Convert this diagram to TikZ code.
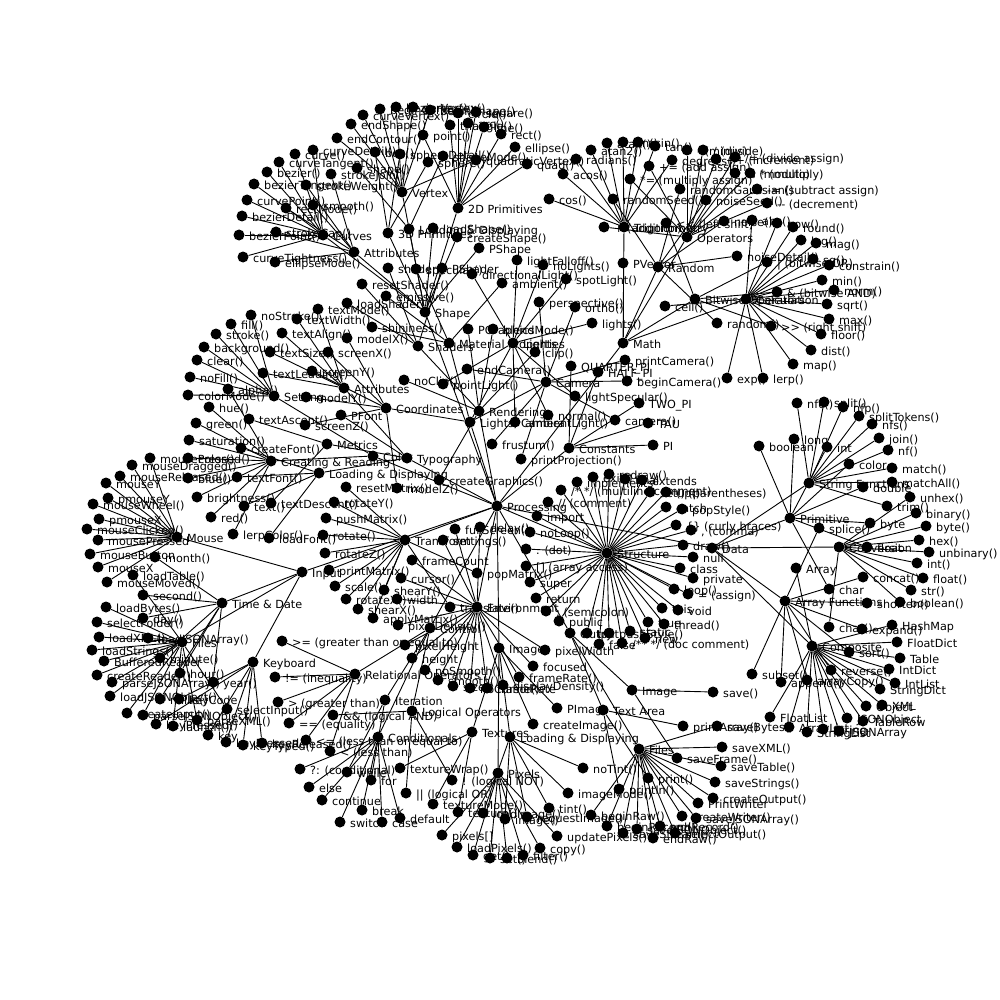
\documentclass[tikz,border=0pt]{standalone}
\usepackage{fontspec}
\newfontfamily\lblfont{DejaVu Sans}
\tikzset{
  dot/.style={circle, fill=black, draw=none, inner sep=0pt, minimum size=11pt},
  lbl/.style={anchor=base west, inner sep=0pt, xshift=10pt, yshift=-5.5pt, font=\lblfont\fontsize{11.2}{13}\selectfont},
  edge/.style={line width=0.9pt, draw=black}
}
\newcommand\myleaf[5]{%
  \node[dot] (#1) at (#2,#3) {};
  \node[lbl] (#1t) at (#1.center) {#4};
  \draw[edge] (#5) -- (#1);
}
\begin{document}
\begin{tikzpicture}[x=1pt,y=-1pt]
\fill[white] (0,0) rectangle (1000,1000);
\useasboundingbox (0,0) rectangle (1000,1000);
% root
\node[dot] (proc) at (497,506) {};
\node[lbl] (proct) at (proc.center) {Processing};
% top level
\myleaf{struct}{607}{553}{Structure}{proc}
\myleaf{env}{477}{607}{Environment}{proc}
\myleaf{data}{712}{548}{Data}{proc}
\myleaf{ctrl}{430}{628}{Control}{proc}
\myleaf{shape}{425}{312}{Shape}{proc}
\myleaf{input}{302}{572}{Input}{proc}
\myleaf{output}{570}{633}{Output}{proc}
\myleaf{transf}{405}{540}{Transform}{proc}
\myleaf{lc}{470}{422}{Lights, Camera}{proc}
\myleaf{color}{373}{456}{Color}{proc}
\myleaf{image}{499}{648}{Image}{proc}
\myleaf{rend}{479}{411}{Rendering}{proc}
\myleaf{typo}{407}{458}{Typography}{proc}
\myleaf{math}{623}{343}{Math}{proc}
\myleaf{const}{569}{448}{Constants}{proc}
% sub hubs
\myleaf{prima}{458}{208}{2D Primitives}{shape}
\myleaf{curves}{323}{235}{Curves}{shape}
\myleaf{primb}{388}{233}{3D Primitives}{shape}
\myleaf{shattr}{354}{252}{Attributes}{shape}
\myleaf{vertex}{402}{192}{Vertex}{shape}
\myleaf{shld}{409}{229}{Loading \& Displaying}{shape}
\myleaf{lights}{513}{343}{Lights}{lc}
\myleaf{camera}{546}{382}{Camera}{lc}
\myleaf{coords}{386}{408}{Coordinates}{lc}
\myleaf{matprop}{449}{343}{Material Properties}{lc}
\myleaf{setting}{274}{396}{Setting}{color}
\myleaf{cr}{271}{461}{Creating \& Reading}{color}
\myleaf{shaders}{418}{346}{Shaders}{rend}
\myleaf{tyattr}{344}{388}{Attributes}{typo}
\myleaf{metrics}{327}{444}{Metrics}{typo}
\myleaf{tyld}{319}{473}{Loading \& Displaying}{typo}
\myleaf{trig}{624}{227}{Trigonometry}{math}
\myleaf{ops}{687}{237}{Operators}{math}
\myleaf{bitw}{695}{299}{Bitwise Operators}{math}
\myleaf{calc}{746}{299}{Calculation}{math}
\myleaf{rnd}{658}{267}{Random}{math}
\myleaf{mouse}{177}{537}{Mouse}{input}
\myleaf{keyb}{253}{662}{Keyboard}{input}
\myleaf{infiles}{182}{642}{Files}{input}
\myleaf{timedate}{222}{603}{Time \& Date}{input}
\myleaf{relop}{355}{674}{Relational Operators}{ctrl}
\myleaf{iter}{385}{700}{Iteration}{ctrl}
\myleaf{cond}{378}{737}{Conditionals}{ctrl}
\myleaf{logop}{412}{711}{Logical Operators}{ctrl}
\myleaf{imld}{510}{737}{Loading \& Displaying}{image}
\myleaf{textures}{472}{732}{Textures}{image}
\myleaf{pixels}{498}{773}{Pixels}{image}
\myleaf{textarea}{603}{710}{Text Area}{output}
\myleaf{outimg}{632}{690}{Image}{output}
\myleaf{outfiles}{639}{749}{Files}{output}
\myleaf{primitive}{790}{518}{Primitive}{data}
\myleaf{composite}{812}{646}{Composite}{data}
\myleaf{conversion}{839}{547}{Conversion}{data}
\myleaf{strfun}{809}{483}{String Functions}{data}
\myleaf{arrfun}{785}{601}{Array Functions}{data}
% Structure
\myleaf{st1}{577}{482}{implements}{struct}
\myleaf{st2}{593}{477}{exit()}{struct}
\myleaf{st3}{609}{474}{redraw()}{struct}
\myleaf{st4}{625}{479}{final}{struct}
\myleaf{st5}{642}{480}{extends}{struct}
\myleaf{st6}{650}{492}{setup()}{struct}
\myleaf{st7}{666}{492}{() (parentheses)}{struct}
\myleaf{st8}{561}{490}{/* */ (multiline comment)}{struct}
\myleaf{st9}{548}{502}{// (comment)}{struct}
\myleaf{st10}{537}{516}{import}{struct}
\myleaf{st11}{530}{532}{noLoop()}{struct}
\myleaf{st12}{526}{549}{. (dot)}{struct}
\myleaf{st13}{526}{566}{[] (array access)}{struct}
\myleaf{st14}{530}{582}{super}{struct}
\myleaf{st15}{536}{598}{return}{struct}
\myleaf{st16}{546}{611}{; (semicolon)}{struct}
\myleaf{st17}{559}{621}{public}{struct}
\myleaf{st18}{587}{633}{try}{struct}
\myleaf{st19}{599}{644}{false}{struct}
\myleaf{st20}{609}{633}{pushStyle()}{struct}
\myleaf{st21}{622}{643}{/** */ (doc comment)}{struct}
\myleaf{st22}{630}{631}{static}{struct}
\myleaf{st23}{645}{638}{new}{struct}
\myleaf{st24}{648}{622}{true}{struct}
\myleaf{st25}{664}{624}{thread()}{struct}
\myleaf{st26}{662}{608}{this}{struct}
\myleaf{st27}{678}{610}{void}{struct}
\myleaf{st28}{674}{589}{loop()}{struct}
\myleaf{st29}{688}{594}{= (assign)}{struct}
\myleaf{st30}{693}{578}{private}{struct}
\myleaf{st31}{680}{568}{class}{struct}
\myleaf{st32}{693}{557}{null}{struct}
\myleaf{st33}{683}{545}{draw()}{struct}
\myleaf{st34}{691}{530}{, (comma)}{struct}
\myleaf{st35}{676}{525}{\{\} (curly braces)}{struct}
\myleaf{st36}{682}{509}{popStyle()}{struct}
\myleaf{st37}{666}{507}{catch}{struct}
% Environment
\myleaf{en1}{401}{578}{cursor()}{env}
\myleaf{en2}{480}{527}{delay()}{env}
\myleaf{en3}{455}{529}{fullScreen()}{env}
\myleaf{en4}{443}{540}{settings()}{env}
\myleaf{en5}{412}{560}{frameCount}{env}
\myleaf{en6}{397}{599}{width}{env}
\myleaf{en7}{398}{625}{pixelDensity()}{env}
\myleaf{en8}{405}{645}{pixelHeight}{env}
\myleaf{en9}{412}{658}{height}{env}
\myleaf{en10}{425}{670}{noSmooth()}{env}
\myleaf{en11}{438}{680}{smooth()}{env}
\myleaf{en12}{453}{686}{size()}{env}
\myleaf{en13}{470}{688}{noCursor()}{env}
\myleaf{en14}{487}{688}{frameRate}{env}
\myleaf{en15}{503}{685}{displayDensity()}{env}
\myleaf{en16}{519}{677}{frameRate()}{env}
\myleaf{en17}{533}{666}{focused}{env}
\myleaf{en18}{545}{650}{pixelWidth}{env}
% Transform
\myleaf{tr1}{373}{618}{applyMatrix()}{transf}
\myleaf{tr2}{477}{573}{popMatrix()}{transf}
\myleaf{tr3}{329}{570}{printMatrix()}{transf}
\myleaf{tr4}{326}{518}{pushMatrix()}{transf}
\myleaf{tr5}{346}{487}{resetMatrix()}{transf}
\myleaf{tr6}{323}{535}{rotate()}{transf}
\myleaf{tr7}{346}{599}{rotateX()}{transf}
\myleaf{tr8}{334}{502}{rotateY()}{transf}
\myleaf{tr9}{325}{553}{rotateZ()}{transf}
\myleaf{tr10}{335}{586}{scale()}{transf}
\myleaf{tr11}{358}{609}{shearX()}{transf}
\myleaf{tr12}{384}{590}{shearY()}{transf}
\myleaf{tr13}{450}{607}{translate()}{transf}
% Lights
\myleaf{li1}{515}{422}{ambientLight()}{lights}
\myleaf{li2}{472}{274}{directionalLight()}{lights}
\myleaf{li3}{517}{260}{lightFalloff()}{lights}
\myleaf{li4}{592}{323}{lights()}{lights}
\myleaf{li5}{575}{396}{lightSpecular()}{lights}
\myleaf{li6}{543}{265}{noLights()}{lights}
\myleaf{li7}{548}{415}{normal()}{lights}
\myleaf{li8}{443}{384}{pointLight()}{lights}
\myleaf{li9}{566}{279}{spotLight()}{lights}
% Camera
\myleaf{ca1}{627}{381}{beginCamera()}{camera}
\myleaf{ca2}{615}{420}{camera()}{camera}
\myleaf{ca3}{467}{369}{endCamera()}{camera}
\myleaf{ca4}{492}{444}{frustum()}{camera}
\myleaf{ca5}{575}{307}{ortho()}{camera}
\myleaf{ca6}{539}{302}{perspective()}{camera}
\myleaf{ca7}{625}{360}{printCamera()}{camera}
\myleaf{ca8}{521}{459}{printProjection()}{camera}
% Coordinates
\myleaf{co1}{347}{338}{modelX()}{coords}
\myleaf{co2}{306}{397}{modelY()}{coords}
\myleaf{co3}{397}{488}{modelZ()}{coords}
\myleaf{co4}{328}{352}{screenX()}{coords}
\myleaf{co5}{312}{371}{screenY()}{coords}
\myleaf{co6}{305}{425}{screenZ()}{coords}
% Material properties
\myleaf{mp1}{502}{283}{ambient()}{matprop}
\myleaf{mp2}{386}{296}{emissive()}{matprop}
\myleaf{mp3}{372}{327}{shininess()}{matprop}
\myleaf{mp4}{416}{269}{specular()}{matprop}
% Rendering
\myleaf{re1}{493}{329}{blendMode()}{rend}
\myleaf{re2}{535}{352}{clip()}{rend}
\myleaf{re3}{439}{480}{createGraphics()}{rend}
\myleaf{re4}{404}{380}{noClip()}{rend}
\myleaf{re5}{468}{329}{PGraphics}{rend}
\myleaf{sh1}{347}{303}{loadShader()}{shaders}
\myleaf{sh2}{442}{268}{PShader}{shaders}
\myleaf{sh3}{362}{284}{resetShader()}{shaders}
\myleaf{sh4}{388}{268}{shader()}{shaders}
% Shape
\myleaf{sp1}{457}{237}{createShape()}{shape}
\myleaf{sp2}{433}{228}{loadShape()}{shape}
\myleaf{sp3}{479}{248}{PShape}{shape}
\myleaf{vx1}{380}{109}{beginContour()}{vertex}
\myleaf{vx2}{430}{110}{beginShape()}{vertex}
\myleaf{vx3}{396}{107}{bezierVertex()}{vertex}
\myleaf{vx4}{363}{115}{curveVertex()}{vertex}
\myleaf{vx5}{337}{138}{endContour()}{vertex}
\myleaf{vx6}{351}{124}{endShape()}{vertex}
\myleaf{vx7}{476}{160}{quadraticVertex()}{vertex}
\myleaf{vx8}{413}{107}{vertex()}{vertex}
\myleaf{pa1}{468}{123}{arc()}{prima}
\myleaf{pa2}{458}{113}{circle()}{prima}
\myleaf{pa3}{515}{147}{ellipse()}{prima}
\myleaf{pa4}{484}{127}{line()}{prima}
\myleaf{pa5}{423}{135}{point()}{prima}
\myleaf{pa6}{527}{164}{quad()}{prima}
\myleaf{pa7}{501}{134}{rect()}{prima}
\myleaf{pa8}{476}{112}{square()}{prima}
\myleaf{pa9}{450}{125}{triangle()}{prima}
\myleaf{pb1}{375}{152}{box()}{primb}
\myleaf{pb2}{428}{162}{sphere()}{primb}
\myleaf{pb3}{400}{154}{sphereDetail()}{primb}
\myleaf{cu1}{267}{172}{bezier()}{curves}
\myleaf{cu2}{242}{216}{bezierDetail()}{curves}
\myleaf{cu3}{239}{235}{bezierPoint()}{curves}
\myleaf{cu4}{254}{184}{bezierTangent()}{curves}
\myleaf{cu5}{295}{154}{curve()}{curves}
\myleaf{cu6}{313}{150}{curveDetail()}{curves}
\myleaf{cu7}{247}{200}{curvePoint()}{curves}
\myleaf{cu8}{279}{162}{curveTangent()}{curves}
\myleaf{cu9}{243}{257}{curveTightness()}{curves}
\myleaf{sa1}{275}{262}{ellipseMode()}{shattr}
\myleaf{sa2}{286}{208}{rectMode()}{shattr}
\myleaf{sa3}{313}{205}{smooth()}{shattr}
\myleaf{sa4}{276}{232}{strokeCap()}{shattr}
\myleaf{sa5}{331}{174}{strokeJoin()}{shattr}
\myleaf{sa6}{306}{185}{strokeWeight()}{shattr}
\myleaf{sl1}{357}{168}{shape()}{shld}
\myleaf{sl2}{443}{156}{shapeMode()}{shld}
% Math
\myleaf{mt1}{623}{263}{PVector}{math}
\myleaf{tg1}{563}{174}{acos()}{trig}
\myleaf{tg2}{638}{142}{asin()}{trig}
\myleaf{tg3}{607}{143}{atan()}{trig}
\myleaf{tg4}{591}{150}{atan2()}{trig}
\myleaf{tg5}{549}{199}{cos()}{trig}
\myleaf{tg6}{672}{160}{degrees()}{trig}
\myleaf{tg7}{576}{159}{radians()}{trig}
\myleaf{tg8}{623}{142}{sin()}{trig}
\myleaf{tg9}{655}{146}{tan()}{trig}
\myleaf{op1}{735}{173}{\% (modulo)}{ops}
\myleaf{op2}{750}{173}{* (multiply)}{ops}
\myleaf{op3}{630}{179}{*= (multiply assign)}{ops}
\myleaf{op4}{604}{227}{+ (addition)}{ops}
\myleaf{op5}{716}{159}{++ (increment)}{ops}
\myleaf{op6}{649}{166}{+= (add assign)}{ops}
\myleaf{op7}{687}{150}{- (minus)}{ops}
\myleaf{op8}{767}{203}{-{}- (decrement)}{ops}
\myleaf{op9}{757}{189}{-= (subtract assign)}{ops}
\myleaf{op10}{703}{150}{/ (divide)}{ops}
\myleaf{op11}{735}{157}{/= (divide assign)}{ops}
\myleaf{rn1}{724}{221}{noise()}{rnd}
\myleaf{rn2}{737}{256}{noiseDetail()}{rnd}
\myleaf{rn3}{706}{200}{noiseSeed()}{rnd}
\myleaf{rn4}{717}{323}{random()}{rnd}
\myleaf{rn5}{680}{189}{randomGaussian()}{rnd}
\myleaf{rn6}{613}{199}{randomSeed()}{rnd}
\myleaf{bw1}{777}{292}{\& (bitwise AND)}{bitw}
\myleaf{bw2}{666}{223}{<< (left shift)}{bitw}
\myleaf{bw3}{771}{326}{>> (right shift)}{bitw}
\myleaf{bw4}{767}{262}{| (bitwise OR)}{bitw}
\myleaf{cl1}{752}{220}{abs()}{calc}
\myleaf{cl2}{665}{306}{ceil()}{calc}
\myleaf{cl3}{829}{265}{constrain()}{calc}
\myleaf{cl4}{811}{350}{dist()}{calc}
\myleaf{cl5}{727}{378}{exp()}{calc}
\myleaf{cl6}{821}{334}{floor()}{calc}
\myleaf{cl7}{763}{378}{lerp()}{calc}
\myleaf{cl8}{801}{240}{log()}{calc}
\myleaf{cl9}{816}{243}{mag()}{calc}
\myleaf{cl10}{793}{364}{map()}{calc}
\myleaf{cl11}{829}{319}{max()}{calc}
\myleaf{cl12}{822}{280}{min()}{calc}
\myleaf{cl13}{834}{290}{norm()}{calc}
\myleaf{cl14}{777}{223}{pow()}{calc}
\myleaf{cl15}{793}{227}{round()}{calc}
\myleaf{cl16}{813}{259}{sq()}{calc}
\myleaf{cl17}{827}{304}{sqrt()}{calc}
% Constants
\myleaf{cn1}{598}{372}{HALF\_PI}{const}
\myleaf{cn2}{653}{445}{PI}{const}
\myleaf{cn3}{571}{366}{QUARTER\_PI}{const}
\myleaf{cn4}{648}{423}{TAU}{const}
\myleaf{cn5}{639}{403}{TWO\_PI}{const}
% Typography
\myleaf{ty1}{341}{415}{PFont}{typo}
\myleaf{ta1}{282}{333}{textAlign()}{tyattr}
\myleaf{ta2}{263}{373}{textLeading()}{tyattr}
\myleaf{ta3}{318}{309}{textMode()}{tyattr}
\myleaf{ta4}{270}{352}{textSize()}{tyattr}
\myleaf{ta5}{297}{319}{textWidth()}{tyattr}
\myleaf{me1}{249}{419}{textAscent()}{metrics}
\myleaf{me2}{271}{503}{textDescent()}{metrics}
\myleaf{tl1}{241}{448}{createFont()}{tyld}
\myleaf{tl2}{269}{538}{loadFont()}{tyld}
\myleaf{tl3}{244}{506}{text()}{tyld}
\myleaf{tl4}{237}{477}{textFont()}{tyld}
% Color
\myleaf{se1}{204}{347}{background()}{setting}
\myleaf{se2}{197}{360}{clear()}{setting}
\myleaf{se3}{188}{395}{colorMode()}{setting}
\myleaf{se4}{231}{324}{fill()}{setting}
\myleaf{se5}{190}{377}{noFill()}{setting}
\myleaf{se6}{251}{315}{noStroke()}{setting}
\myleaf{se7}{216}{334}{stroke()}{setting}
\myleaf{cr1}{228}{389}{alpha()}{cr}
\myleaf{cr2}{188}{478}{blue()}{cr}
\myleaf{cr3}{197}{497}{brightness()}{cr}
\myleaf{cr4}{188}{458}{color()}{cr}
\myleaf{cr5}{196}{423}{green()}{cr}
\myleaf{cr6}{209}{407}{hue()}{cr}
\myleaf{cr7}{233}{534}{lerpColor()}{cr}
\myleaf{cr8}{211}{517}{red()}{cr}
\myleaf{cr9}{189}{440}{saturation()}{cr}
% Mouse
\myleaf{mo1}{90}{554}{mouseButton}{mouse}
\myleaf{mo2}{87}{529}{mouseClicked()}{mouse}
\myleaf{mo3}{132}{465}{mouseDragged()}{mouse}
\myleaf{mo4}{107}{582}{mouseMoved()}{mouse}
\myleaf{mo5}{150}{458}{mousePressed()}{mouse}
\myleaf{mo6}{98}{540}{mousePressed}{mouse}
\myleaf{mo7}{120}{476}{mouseReleased()}{mouse}
\myleaf{mo8}{93}{504}{mouseWheel()}{mouse}
\myleaf{mo9}{98}{567}{mouseX}{mouse}
\myleaf{mo10}{106}{483}{mouseY}{mouse}
\myleaf{mo11}{99}{519}{pmouseX}{mouse}
\myleaf{mo12}{108}{498}{pmouseY}{mouse}
% Time & Date
\myleaf{td1}{143}{618}{day()}{timedate}
\myleaf{td2}{180}{673}{hour()}{timedate}
\myleaf{td3}{160}{699}{millis()}{timedate}
\myleaf{td4}{160}{658}{minute()}{timedate}
\myleaf{td5}{155}{557}{month()}{timedate}
\myleaf{td6}{143}{595}{second()}{timedate}
\myleaf{td7}{213}{682}{year()}{timedate}
% Files (input)
\myleaf{fi1}{104}{661}{BufferedReader}{infiles}
\myleaf{fi2}{127}{713}{createInput()}{infiles}
\myleaf{fi3}{97}{675}{createReader()}{infiles}
\myleaf{fi4}{173}{726}{launch()}{infiles}
\myleaf{fi5}{106}{607}{loadBytes()}{infiles}
\myleaf{fi6}{148}{638}{loadJSONArray()}{infiles}
\myleaf{fi7}{110}{696}{loadJSONObject()}{infiles}
\myleaf{fi8}{92}{650}{loadStrings()}{infiles}
\myleaf{fi9}{133}{575}{loadTable()}{infiles}
\myleaf{fi10}{99}{637}{loadXML()}{infiles}
\myleaf{fi11}{112}{682}{parseJSONArray()}{infiles}
\myleaf{fi12}{143}{715}{parseJSONObject()}{infiles}
\myleaf{fi13}{197}{720}{parseXML()}{infiles}
\myleaf{fi14}{97}{622}{selectFolder()}{infiles}
\myleaf{fi15}{227}{709}{selectInput()}{infiles}
% Keyboard
\myleaf{kb1}{208}{735}{key}{keyb}
\myleaf{kb2}{179}{699}{keyCode}{keyb}
\myleaf{kb3}{156}{724}{keyPressed()}{keyb}
\myleaf{kb4}{226}{742}{keyPressed}{keyb}
\myleaf{kb5}{262}{743}{keyReleased()}{keyb}
\myleaf{kb6}{243}{745}{keyTyped()}{keyb}
% Control
\myleaf{ro1}{275}{677}{!= (inequality)}{relop}
\myleaf{ro2}{330}{751}{< (less than)}{relop}
\myleaf{ro3}{306}{740}{<= (less than or equal to)}{relop}
\myleaf{ro4}{289}{723}{== (equality)}{relop}
\myleaf{ro5}{278}{702}{> (greater than)}{relop}
\myleaf{ro6}{282}{641}{>= (greater than or equal to)}{relop}
\myleaf{it1}{371}{780}{for}{iter}
\myleaf{it2}{347}{772}{while}{iter}
\myleaf{cd1}{300}{769}{?: (conditional)}{cond}
\myleaf{cd2}{362}{810}{break}{cond}
\myleaf{cd3}{382}{822}{case}{cond}
\myleaf{cd4}{322}{800}{continue}{cond}
\myleaf{cd5}{400}{818}{default}{cond}
\myleaf{cd6}{309}{787}{else}{cond}
\myleaf{cd7}{340}{822}{switch}{cond}
\myleaf{lo1}{452}{780}{! (logical NOT)}{logop}
\myleaf{lo2}{333}{715}{\&\& (logical AND)}{logop}
\myleaf{lo3}{406}{793}{|| (logical OR)}{logop}
% Image
\myleaf{im1}{533}{724}{createImage()}{image}
\myleaf{im2}{557}{708}{PImage}{image}
\myleaf{il1}{483}{813}{loadImage()}{imld}
\myleaf{il2}{505}{819}{image()}{imld}
\myleaf{il3}{527}{817}{requestImage()}{imld}
\myleaf{il4}{549}{808}{tint()}{imld}
\myleaf{il5}{568}{793}{imageMode()}{imld}
\myleaf{il6}{583}{768}{noTint()}{imld}
\myleaf{tx1}{458}{812}{texture()}{textures}
\myleaf{tx2}{433}{804}{textureMode()}{textures}
\myleaf{tx3}{400}{768}{textureWrap()}{textures}
\myleaf{px1}{442}{835}{pixels[]}{pixels}
\myleaf{px2}{457}{847}{loadPixels()}{pixels}
\myleaf{px3}{473}{855}{get()}{pixels}
\myleaf{px4}{490}{858}{set()}{pixels}
\myleaf{px5}{507}{858}{blend()}{pixels}
\myleaf{px6}{523}{855}{filter()}{pixels}
\myleaf{px7}{540}{848}{copy()}{pixels}
\myleaf{px8}{557}{836}{updatePixels()}{pixels}
% Output
\myleaf{ta6}{648}{778}{print()}{textarea}
\myleaf{ta7}{683}{726}{printArray()}{textarea}
\myleaf{ta8}{619}{789}{println()}{textarea}
\myleaf{oi1}{713}{692}{save()}{outimg}
\myleaf{oi2}{677}{758}{saveFrame()}{outimg}
\myleaf{of1}{591}{815}{beginRaw()}{outfiles}
\myleaf{of2}{607}{826}{beginRecord()}{outfiles}
\myleaf{of3}{713}{798}{createOutput()}{outfiles}
\myleaf{of4}{682}{816}{createWriter()}{outfiles}
\myleaf{of5}{653}{838}{endRaw()}{outfiles}
\myleaf{of6}{660}{826}{endRecord()}{outfiles}
\myleaf{of7}{698}{803}{PrintWriter}{outfiles}
\myleaf{of8}{717}{726}{saveBytes()}{outfiles}
\myleaf{of9}{696}{818}{saveJSONArray()}{outfiles}
\myleaf{of10}{637}{829}{saveJSONObject()}{outfiles}
\myleaf{of11}{623}{833}{saveStream()}{outfiles}
\myleaf{of12}{715}{782}{saveStrings()}{outfiles}
\myleaf{of13}{721}{766}{saveTable()}{outfiles}
\myleaf{of14}{722}{747}{saveXML()}{outfiles}
\myleaf{of15}{675}{833}{selectOutput()}{outfiles}
% Data
\myleaf{pr1}{759}{446}{boolean}{primitive}
\myleaf{pr2}{870}{523}{byte}{primitive}
\myleaf{pr3}{829}{589}{char}{primitive}
\myleaf{pr4}{849}{464}{color}{primitive}
\myleaf{pr5}{863}{487}{double}{primitive}
\myleaf{pr6}{867}{547}{float}{primitive}
\myleaf{pr7}{827}{447}{int}{primitive}
\myleaf{pr8}{794}{439}{long}{primitive}
\myleaf{cm1}{796}{568}{Array}{composite}
\myleaf{cm2}{789}{727}{ArrayList}{composite}
\myleaf{cm3}{897}{642}{FloatDict}{composite}
\myleaf{cm4}{770}{717}{FloatList}{composite}
\myleaf{cm5}{892}{625}{HashMap}{composite}
\myleaf{cm6}{889}{669}{IntDict}{composite}
\myleaf{cm7}{895}{683}{IntList}{composite}
\myleaf{cm8}{839}{731}{JSONArray}{composite}
\myleaf{cm9}{847}{718}{JSONObject}{composite}
\myleaf{cm10}{866}{706}{Object}{composite}
\myleaf{cm11}{823}{729}{String}{composite}
\myleaf{cm12}{880}{689}{StringDict}{composite}
\myleaf{cm13}{807}{732}{StringList}{composite}
\myleaf{cm14}{900}{658}{Table}{composite}
\myleaf{cm15}{863}{721}{TableRow}{composite}
\myleaf{cm16}{882}{705}{XML}{composite}
\myleaf{cv1}{916}{513}{binary()}{conversion}
\myleaf{cv2}{900}{602}{boolean()}{conversion}
\myleaf{cv3}{926}{526}{byte()}{conversion}
\myleaf{cv4}{829}{627}{char()}{conversion}
\myleaf{cv5}{923}{578}{float()}{conversion}
\myleaf{cv6}{919}{540}{hex()}{conversion}
\myleaf{cv7}{917}{563}{int()}{conversion}
\myleaf{cv8}{911}{590}{str()}{conversion}
\myleaf{cv9}{929}{552}{unbinary()}{conversion}
\myleaf{cv10}{910}{497}{unhex()}{conversion}
\myleaf{sf1}{879}{438}{join()}{strfun}
\myleaf{sf2}{892}{468}{match()}{strfun}
\myleaf{sf3}{892}{482}{matchAll()}{strfun}
\myleaf{sf4}{888}{450}{nf()}{strfun}
\myleaf{sf5}{797}{403}{nfc()}{strfun}
\myleaf{sf6}{843}{407}{nfp()}{strfun}
\myleaf{sf7}{872}{424}{nfs()}{strfun}
\myleaf{sf8}{824}{402}{split()}{strfun}
\myleaf{sf9}{859}{416}{splitTokens()}{strfun}
\myleaf{sf10}{887}{506}{trim()}{strfun}
\myleaf{af1}{781}{682}{append()}{arrfun}
\myleaf{af2}{807}{680}{arrayCopy()}{arrfun}
\myleaf{af3}{863}{577}{concat()}{arrfun}
\myleaf{af4}{862}{629}{expand()}{arrfun}
\myleaf{af5}{831}{670}{reverse()}{arrfun}
\myleaf{af6}{867}{603}{shorten()}{arrfun}
\myleaf{af7}{849}{652}{sort()}{arrfun}
\myleaf{af8}{819}{528}{splice()}{arrfun}
\myleaf{af9}{752}{674}{subset()}{arrfun}
\end{tikzpicture}
\end{document}
